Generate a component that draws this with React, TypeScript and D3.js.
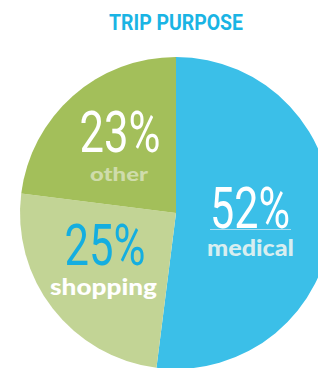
import React from "react";
import * as d3 from "d3";

const categories = ["medical", "shopping", "other"];
const values = [52, 25, 23];
const labels = ["52%", "25%", "23%"];
const colors = ["#3bbfe8", "#c2d495", "#a3bf5a"];
const title = "TRIP PURPOSE";

export default function App() {
  const W = 318, H = 368;
  const cx = 176, cy = 213, r = 156;
  const pie = d3.pie<number>().sort(null).startAngle(0).endAngle(2 * Math.PI);
  const arcs = pie(values);
  const arc = d3.arc<d3.PieArcDatum<number>>().innerRadius(0).outerRadius(r);

  const numFont = "Roboto, 'Liberation Sans', sans-serif";
  const lblFont = "Lato, 'Open Sans', sans-serif";

  return (
    <svg width={W} height={H} style={{ position: "absolute", left: 0, top: 0 }}>
      <text x={176} y={30} textAnchor="middle" fontFamily={numFont} fontWeight={700}
        fontSize={22} fill="#1ab4e4" textLength={134} lengthAdjust="spacingAndGlyphs">{title}</text>
      <g transform={`translate(${cx},${cy})`}>
        {arcs.map((a, i) => (
          <path key={categories[i]} d={arc(a) || ""} fill={colors[i]} />
        ))}
      </g>
      {/* medical */}
      <text x={250} y={228} textAnchor="middle" fontFamily={numFont} fontWeight={400} fontSize={58}
        fill="#ffffff" textLength={80} lengthAdjust="spacingAndGlyphs">{labels[0]}</text>
      <line x1={210} x2={291} y1={229.5} y2={229.5} stroke="#a8dff2" strokeWidth={1} />
      <text x={250.5} y={256} textAnchor="middle" fontFamily={lblFont} fontWeight={900} fontSize={23}
        fill="#d8eef0" textLength={87} lengthAdjust="spacingAndGlyphs">{categories[0]}</text>
      {/* shopping */}
      <text x={105} y={265} textAnchor="middle" fontFamily={numFont} fontWeight={400} fontSize={58}
        fill="#14aee0" textLength={81} lengthAdjust="spacingAndGlyphs">{labels[1]}</text>
      <text x={103.5} y={295} textAnchor="middle" fontFamily={lblFont} fontWeight={900} fontSize={23}
        fill="#ffffff" textLength={107} lengthAdjust="spacingAndGlyphs">{categories[1]}</text>
      {/* other */}
      <text x={120} y={152} textAnchor="middle" fontFamily={numFont} fontWeight={400} fontSize={58}
        fill="#ffffff" textLength={81} lengthAdjust="spacingAndGlyphs">{labels[2]}</text>
      <text x={119} y={181} textAnchor="middle" fontFamily={lblFont} fontWeight={900} fontSize={19}
        fill="#cfdcab" textLength={58} lengthAdjust="spacingAndGlyphs">{categories[2]}</text>
    </svg>
  );
}
